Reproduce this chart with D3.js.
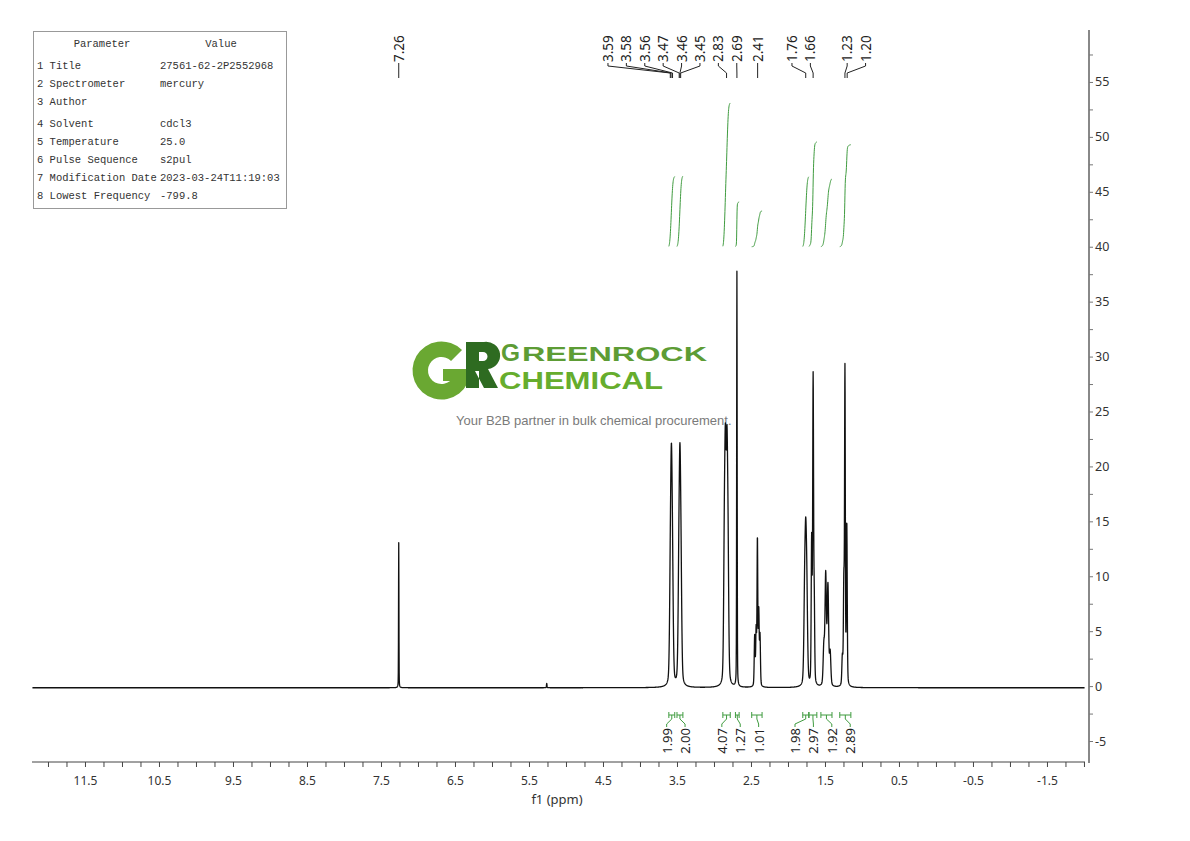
<!DOCTYPE html>
<html><head><meta charset="utf-8"><title>1H NMR</title>
<script src="https://cdn.jsdelivr.net/npm/d3@7/dist/d3.min.js"></script>
<style>html,body{margin:0;padding:0;background:#fff;} svg{display:block;}</style>
</head><body>
<svg id="chart" width="1190" height="841"></svg>
<script>
// ---------------- data ----------------
const xTickLabels = [11.5,10.5,9.5,8.5,7.5,6.5,5.5,4.5,3.5,2.5,1.5,0.5,-0.5,-1.5];
const yTickLabels = [-5,0,5,10,15,20,25,30,35,40,45,50,55];

// spectrum lines (ppm, height, half width at half maximum in ppm)
const peakPpm       = [7.26, 5.26, 3.59,3.575,3.56, 3.475,3.46,3.445, 2.86,2.845,2.825,2.81, 2.69, 2.45,2.43,2.413,2.395,2.378, 1.775,1.76,1.745, 1.68,1.66,1.645, 1.515,1.49,1.46,1.43, 1.265,1.245,1.23,1.205];
const peakHeight    = [13.2, 0.4, 8.2,16.4,8.2, 8.2,16.4,8.2, 11,18,18,10.4, 37.8, 4.5,5,13.2,6.7,4.5, 7,10.5,7, 12.9,27.6,7, 3.5,10,9,3, 2.5,9,28.4,14.6];
const peakHalfWidth = [0.003,0.004, 0.012,0.012,0.012, 0.012,0.012,0.012, 0.011,0.011,0.011,0.011, 0.004, 0.007,0.007,0.006,0.007,0.007, 0.012,0.012,0.012, 0.007,0.007,0.007, 0.011,0.011,0.011,0.011, 0.008,0.007,0.006,0.007];
const lorentzFraction = 0.3;
const baselineLevel = -0.15;

// peak picking labels
const peakLabels = [7.26, 3.59,3.58,3.56,3.47,3.46,3.45,2.83,2.69,2.41,1.76,1.66,1.23,1.20];

// integrations
const integralFrom  = [3.61, 3.50, 2.88, 2.71, 2.49, 1.80, 1.715, 1.555, 1.30];
const integralTo    = [3.53, 3.42, 2.78, 2.66, 2.35, 1.72, 1.61, 1.405, 1.15];
const integralValue = [1.99, 2.00, 4.07, 1.27, 1.01, 1.98, 2.97, 1.92, 2.89];

// parameter table
const paramNames  = ["1 Title","2 Spectrometer","3 Author","4 Solvent","5 Temperature","6 Pulse Sequence","7 Modification Date","8 Lowest Frequency"];
const paramValues = ["27561-62-2P2552968","mercury","","cdcl3","25.0","s2pul","2023-03-24T11:19:03","-799.8"];

// ---------------- chart ----------------
const svg = d3.select('#chart');
const x = d3.scaleLinear().domain([12.216, -2.014]).range([32, 1085]);
const y = d3.scaleLinear().domain([-7.0, 59.73]).range([763, 30]);
const labelFont = "'Noto Sans', 'Open Sans', sans-serif";

// watermark
const wm = svg.append('g').attr('class','watermark');
const gArc = d3.arc().innerRadius(13.5).outerRadius(29).startAngle(Math.PI/2).endAngle(Math.PI*2 + Math.PI/4);
wm.append('path').attr('d', gArc()).attr('transform','translate(441.5,370.5)').attr('fill','#6aa832');
wm.append('rect').attr('x',443).attr('y',369).attr('width',27).attr('height',12).attr('fill','#6aa832');
wm.append('path')
  .attr('d','M466,342 H484 A14,13.5 0 0 1 488,369 L498,388 H484 L475,371 H479 V388 H466 Z M479,352 H483 A4.5,4.5 0 0 1 483,361 H479 Z')
  .attr('fill','#2e6b21').attr('fill-rule','evenodd');
const wmFont = "'Liberation Sans', Arial, sans-serif";
wm.append('text').attr('x',501).attr('y',361).text('G')
  .attr('font-family',wmFont).attr('font-weight','bold').attr('font-size',24)
  .attr('textLength',19).attr('lengthAdjust','spacingAndGlyphs').attr('fill','#5d9c35');
wm.append('text').attr('x',522).attr('y',361).text('REENROCK')
  .attr('font-family',wmFont).attr('font-weight','bold').attr('font-size',20)
  .attr('textLength',185).attr('lengthAdjust','spacingAndGlyphs').attr('fill','#5d9c35');
wm.append('text').attr('x',499).attr('y',388.5).text('CHEMICAL')
  .attr('font-family',wmFont).attr('font-weight','bold').attr('font-size',24.5)
  .attr('textLength',164).attr('lengthAdjust','spacingAndGlyphs').attr('fill','#66ad2d');
wm.append('text').attr('x',456).attr('y',425).text('Your B2B partner in bulk chemical procurement.')
  .attr('font-family',wmFont).attr('font-size',13).attr('fill','#7a7a7a');

// spectrum (pseudo-Voigt lines)
function spectrum(p){
  let s = baselineLevel;
  for (let i=0;i<peakPpm.length;i++){
    const d = (p - peakPpm[i]) / peakHalfWidth[i];
    s += peakHeight[i] * ((1-lorentzFraction)*Math.exp(-Math.LN2*d*d) + lorentzFraction/(1 + d*d));
  }
  return s;
}
const step = 0.002;
const pts = d3.range(12.21, -2.01, -step).map(p => [p, spectrum(p)]);
svg.append('path').datum(pts)
  .attr('d', d3.line().x(d=>x(d[0])).y(d=>y(d[1])))
  .attr('fill','none').attr('stroke','#111').attr('stroke-width',1.3).attr('stroke-linejoin','round');

// integrals
const integralBase = 40, integralScale = 3.215;
const green = '#3f9b3f';
integralFrom.forEach((f,i)=>{
  const t = integralTo[i];
  const seg = d3.range(f, t - step/2, -step);
  let cum = 0; const cums = seg.map(p => { cum += Math.max(0, spectrum(p) - baselineLevel); return cum; });
  const curve = seg.map((p,k)=>[p, integralBase + cums[k]/cum * integralValue[i] * integralScale]);
  svg.append('path').datum(curve)
    .attr('d', d3.line().x(d=>x(d[0])).y(d=>y(d[1])))
    .attr('fill','none').attr('stroke',green).attr('stroke-width',1);
});

const gap = 18.4;
// least-squares spread of labels (integral labels)
function spreadLS(centers){
  const blocks = [];
  centers.forEach((c,i)=>{
    blocks.push({sum: c - i*gap, n:1, start:i});
    while (blocks.length>1){
      const b = blocks[blocks.length-1], a = blocks[blocks.length-2];
      if (a.sum/a.n > b.sum/b.n){ a.sum += b.sum; a.n += b.n; blocks.pop(); } else break;
    }
  });
  const out = [];
  blocks.forEach(b=>{ for(let k=0;k<b.n;k++){ const i=b.start+k; out[i] = b.sum/b.n + i*gap; } });
  return out;
}
const intCenters = integralFrom.map((f,i)=> (x(f)+x(integralTo[i]))/2);
const intLabelX = spreadLS(intCenters);
const brY = 715;
integralFrom.forEach((f,i)=>{
  const x1 = x(f), x2 = x(integralTo[i]), cx = intCenters[i], lx = intLabelX[i];
  svg.append('path')
    .attr('d', `M${x1},${brY-3}V${brY+3}M${x1},${brY}H${x2}M${x2},${brY-3}V${brY+3}M${cx},${brY}V${brY+4}L${lx},${brY+9}V${brY+12}`)
    .attr('fill','none').attr('stroke',green).attr('stroke-width',1);
  svg.append('text')
    .attr('transform',`translate(${lx},${brY+13}) rotate(-90)`)
    .attr('text-anchor','end').attr('dominant-baseline','central')
    .attr('font-family',labelFont).attr('font-size',13).attr('fill','#222')
    .text(integralValue[i].toFixed(2));
});

// peak labels: slot layout, taller peaks pick their slot first
const pkX = peakLabels.map(p=>x(p));
const n = pkX.length;
const anchor = pkX[n-1];
const slot = new Array(n).fill(null);
pkX.forEach((v,i)=>{
  const iso = (i===0 || v - pkX[i-1] >= gap) && (i===n-1 || pkX[i+1] - v >= gap);
  if (iso) slot[i] = (v - anchor)/gap;
});
d3.range(n).filter(i=>slot[i]===null)
  .sort((a,b)=> spectrum(peakLabels[b]) - spectrum(peakLabels[a]))
  .forEach(i=>{
    let lo = -Infinity, cntL = 0;
    for (let j=i-1;j>=0;j--){ if (slot[j]!==null){ lo = slot[j]; break; } cntL++; }
    let hi = Infinity, cntR = 0;
    for (let j=i+1;j<n;j++){ if (slot[j]!==null){ hi = slot[j]; break; } cntR++; }
    const minS = isFinite(lo) ? Math.ceil(lo + 1 - 1e-6) + cntL : -Infinity;
    const maxS = isFinite(hi) ? Math.floor(hi - 1 + 1e-6) - cntR : Infinity;
    slot[i] = Math.max(minS, Math.min(maxS, Math.round((pkX[i]-anchor)/gap)));
  });
const pkLX = slot.map(s => anchor + s*gap);
peakLabels.forEach((p,i)=>{
  const lx = pkLX[i], px = pkX[i];
  svg.append('path').attr('d',`M${lx},63V66L${px},73V78`)
    .attr('fill','none').attr('stroke','#222').attr('stroke-width',1);
  svg.append('text')
    .attr('transform',`translate(${lx},62) rotate(-90)`)
    .attr('text-anchor','start').attr('dominant-baseline','central')
    .attr('font-family',labelFont).attr('font-size',13.5).attr('fill','#222')
    .text(p.toFixed(2));
});

// x axis
const xTicks = d3.range(0, 57).map(k => 12.0 - k*0.25);
const isLab = v => xTickLabels.some(l => Math.abs(l - v) < 1e-6);
const xAxis = d3.axisBottom(x).tickValues(xTicks).tickSize(5).tickSizeOuter(0)
  .tickFormat(v => isLab(v) ? String(v) : '');
const gx = svg.append('g').attr('transform','translate(0,762)').call(xAxis);
gx.select('.domain').attr('stroke','#444').attr('d','M32,0H1085');
gx.selectAll('.tick line').attr('stroke','#444');
gx.selectAll('.tick text').attr('font-family',labelFont).attr('font-size',12).attr('fill','#333').attr('dy','1.25em');
svg.append('text').attr('x',557).attr('y',804).attr('text-anchor','middle')
  .attr('font-family',labelFont).attr('font-size',13).attr('fill','#333').text('f1 (ppm)');

// y axis
const yTicks = d3.range(0, 26).map(k => -5 + k*2.5);
const isYLab = v => yTickLabels.some(l => Math.abs(l - v) < 1e-6);
const yAxis = d3.axisRight(y).tickValues(yTicks).tickSize(4).tickSizeOuter(0)
  .tickFormat(v => isYLab(v) ? String(v) : '');
const gy = svg.append('g').attr('transform','translate(1089,0)').call(yAxis);
gy.select('.domain').attr('stroke','#888').attr('stroke-width',2).attr('d','M0,30V763');
gy.selectAll('.tick line').attr('stroke','#777');
gy.selectAll('.tick text').attr('font-family',labelFont).attr('font-size',12.5).attr('fill','#333').attr('x',6);

// parameter table
const tb = svg.append('g');
tb.append('rect').attr('x',33.5).attr('y',31.5).attr('width',253).attr('height',177)
  .attr('fill','#fff').attr('stroke','#999').attr('stroke-width',1);
const tFont = "'Liberation Mono', 'DejaVu Sans Mono', monospace";
tb.append('text').attr('x',102).attr('y',47).attr('text-anchor','middle').attr('font-family',tFont).attr('font-size',10.5).attr('fill','#333').text('Parameter');
tb.append('text').attr('x',221).attr('y',47).attr('text-anchor','middle').attr('font-family',tFont).attr('font-size',10.5).attr('fill','#333').text('Value');
paramNames.forEach((nm,i)=>{
  const yy = 69 + i*18 + (i>=3 ? 4 : 0);
  tb.append('text').attr('x',37).attr('y',yy).attr('font-family',tFont).attr('font-size',10.5).attr('fill','#333').text(nm);
  tb.append('text').attr('x',160).attr('y',yy).attr('font-family',tFont).attr('font-size',10.5).attr('fill','#333').text(paramValues[i]);
});
</script>
</body></html>
